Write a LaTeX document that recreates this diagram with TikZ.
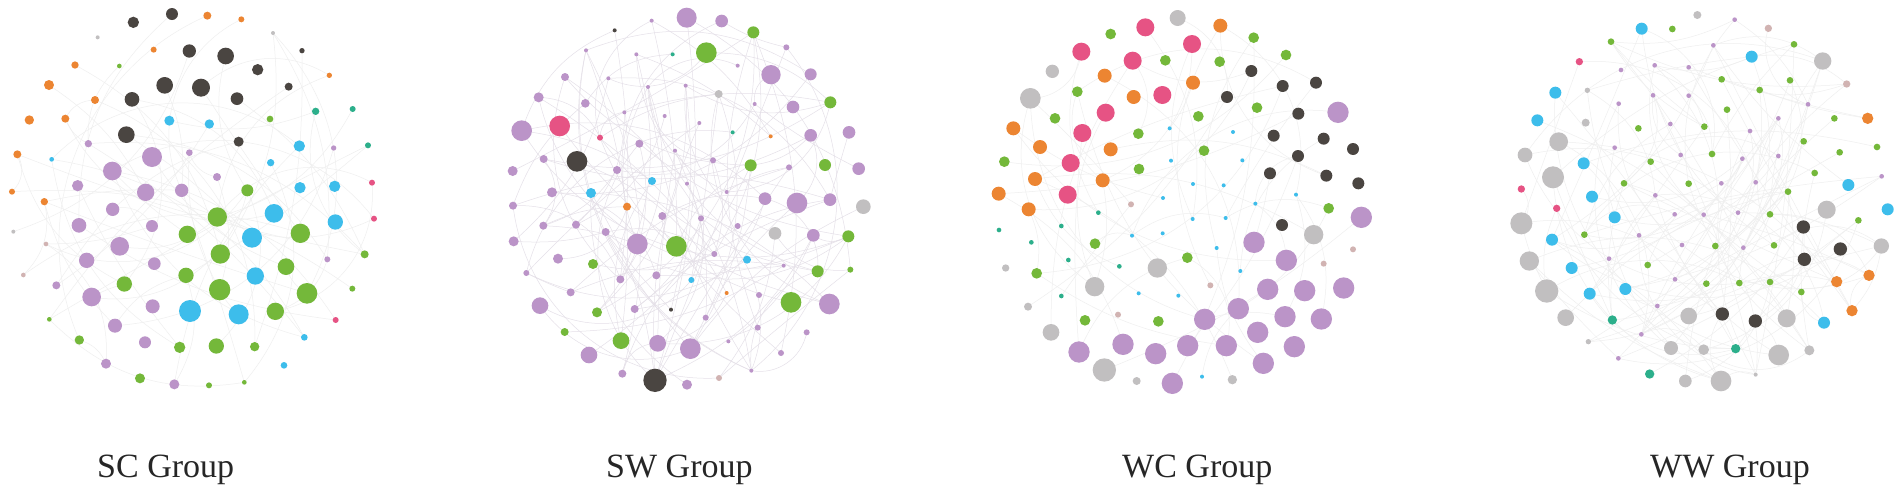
\documentclass[tikz,border=0pt]{standalone}
\usepackage{fontspec}
\setmainfont{Liberation Serif}
\pgfdeclarelayer{bg}
\pgfsetlayers{bg,main}
\definecolor{cpu}{HTML}{BB94C8}
\definecolor{cgr}{HTML}{74B83A}
\definecolor{cbl}{HTML}{3DBDEB}
\definecolor{cdk}{HTML}{4A4541}
\definecolor{cor}{HTML}{EC8532}
\definecolor{cpk}{HTML}{E65384}
\definecolor{ctl}{HTML}{2CAF8B}
\definecolor{cgy}{HTML}{C1BFC0}
\definecolor{cbe}{HTML}{D1B3B2}
\definecolor{cedge}{HTML}{EFEFEF}
\definecolor{cedgesw}{HTML}{E5E0E8}
\newcounter{dotc}
\newcommand\dt[4]{\stepcounter{dotc}\fill[#1] (#2,#3) circle (#4);\coordinate (n\arabic{dotc}) at (#2,#3);}
\newcommand\edges[4]{% lo, hi, count, style
  \foreach \k in {1,...,#3}{%
    \pgfmathrandominteger{\ea}{#1}{#2}%
    \pgfmathrandominteger{\ec}{#1}{#2}%
    \pgfmathrandominteger{\eb}{-45}{45}%
    \ifnum\ea=\ec\else\draw[#4] (n\ea) to[bend left=\eb] (n\ec);\fi}}
\tikzset{
  pu/.style={fill=cpu}, gr/.style={fill=cgr}, bl/.style={fill=cbl},
  dk/.style={fill=cdk}, or/.style={fill=cor}, pk/.style={fill=cpk},
  tl/.style={fill=ctl}, gy/.style={fill=cgy}, be/.style={fill=cbe},
  edge/.style={draw=cedge, line width=0.5pt},
  edgesw/.style={draw=cedgesw, line width=0.5pt},
  lab/.style={font=\fontsize{34}{40}\selectfont, text=black!85, inner sep=0pt, anchor=base west}
}
\begin{document}
\begin{tikzpicture}[x=1pt,y=-1pt]
\useasboundingbox (0,0) rectangle (1902,496);
% ---------------- SC group
\begin{scope}[scale=1/3]
\foreach \x/\y/\r in {400/67/17,516/42/18,568/153/20,677/168/25,773/209/17,866/260/12,711/296/19,603/263/27,494/256/25,396/298/22,379/404/25,716/425/15,906/152/8}{\dt{dk}{\x}{\y}{\r}}
\foreach \x/\y/\r in {622/47/12,724/58/9,461/149/9,225/195/11,147/255/15,285/300/12,88/360/14,196/356/12,52/463/12,36/575/9,133/605/11,988/226/8}{\dt{or}{\x}{\y}{\r}}
\foreach \x/\y/\r in {293/112/6,819/99/6,40/695/6}{\dt{gy}{\x}{\y}{\r}}
\foreach \x/\y/\r in {138/732/7,70/825/7}{\dt{be}{\x}{\y}{\r}}
\foreach \x/\y/\r in {947/334/11,1058/327/9,1104/436/9}{\dt{tl}{\x}{\y}{\r}}
\foreach \x/\y/\r in {508/362/15,628/372/14,155/478/7,898/438/17,812/488/11,900/563/17,1004/559/17,822/640/28,1006/666/23,756/713/30,766/828/26,570/933/33,716/943/30,913/1012/10,852/1096/10}{\dt{bl}{\x}{\y}{\r}}
\foreach \x/\y/\r in {265/431/11,568/458/10,1001/444/8,456/471/30,337/513/28,233/557/17,437/577/26,545/571/20,651/531/12,338/628/20,237/676/22,456/678/18,359/739/28,260/781/23,463/791/19,982/778/9,169/856/12,275/891/28,458/919/21,345/977/21,435/1027/18,318/1091/15,523/1153/15}{\dt{pu}{\x}{\y}{\r}}
\foreach \x/\y/\r in {358/198/7,810/357/10,742/571/18,652/651/29,562/703/26,901/700/29,661/762/29,858/800/25,558/826/23,659/869/32,921/880/31,373/852/23,826/934/26,1094/763/12,1057/866/9,148/958/7,238/1020/14,539/1042/17,649/1038/23,764/1040/14,420/1135/15,627/1156/9,733/1147/7}{\dt{gr}{\x}{\y}{\r}}
\foreach \x/\y/\r in {1116/548/9,1122/656/9,1007/960/9}{\dt{pk}{\x}{\y}{\r}}
\end{scope}
\edef\nA{\arabic{dotc}}
% ---------------- SW group
\begin{scope}[xshift=500pt,scale=1/3]
\foreach \x/\y/\r in {560/53/30,665/63/19,455/62/6,258/151/6,409/163/6,859/142/9,713/197/6,813/224/29,932/223/18,195/231/12,325/235/6,444/261/6,557/257/6,116/292/15,256/310/13,373/337/6,494/348/6,598/369/6,764/312/6,879/321/19,65/392/31,418/431/12,525/452/6,932/406/19,1047/397/19,131/477/12,351/510/12,639/481/9,867/502/9,1076/506/19,38/513/15,561/551/6,156/577/15,680/576/6,795/596/19,891/609/31,990/599/19,39/617/12,487/648/12,603/655/9,130/677/12,228/674/12,317/696/12,713/678/9,41/724/15,412/732/31,940/706/19,174/776/15,643/762/9,79/819/9,851/797/6,361/838/12,469/826/12,212/877/12,777/885/9,120/917/25,404/927/12,988/912/31,617/953/9,773/983/9,920/997/9,473/1030/25,571/1046/31,685/1024/6,267/1065/25,843/1059/9,367/1121/12,754/1112/6,561/1154/15}{\dt{pu}{\x}{\y}{\r}}
\foreach \x/\y/\r in {760/97/18,619/158/31,991/307/18,752/496/18,975/495/18,529/739/31,1045/709/18,279/792/15,953/814/18,1051/809/9,873/907/31,291/937/15,194/996/12,363/1022/25}{\dt{gr}{\x}{\y}{\r}}
\foreach \x/\y/\r in {518/163/6,698/397/6}{\dt{tl}{\x}{\y}{\r}}
\foreach \x/\y/\r in {656/282/12,1090/620/22,825/700/19}{\dt{gy}{\x}{\y}{\r}}
\foreach \x/\y/\r in {344/91/6,231/484/31,513/929/6,465/1141/35}{\dt{dk}{\x}{\y}{\r}}
\foreach \x/\y/\r in {179/378/31,300/413/9}{\dt{pk}{\x}{\y}{\r}}
\foreach \x/\y/\r in {456/543/12,273/579/15,741/779/12,574/840/9}{\dt{bl}{\x}{\y}{\r}}
\foreach \x/\y/\r in {381/620/12,812/409/6,680/879/6}{\dt{or}{\x}{\y}{\r}}
\dt{be}{657}{1134}{9}
\end{scope}
\edef\nB{\arabic{dotc}}
% ---------------- WC group
\begin{scope}[xshift=985pt,scale=1/3]
\foreach \x/\y/\r in {578/54/24,202/214/20,136/295/31,986/704/29,517/804/29,329/860/29,62/804/11,129/920/12,198/997/25,358/1110/35,455/1143/12,742/1139/14}{\dt{gy}{\x}{\y}{\r}}
\foreach \x/\y in {481/82,289/155,621/132,443/182,532/285,362/338,292/399,257/489,248/584}{\dt{pk}{\x}{\y}{27}}
\foreach \x/\y in {706/77,359/227,624/248,446/291,85/385,165/441,377/448,150/537,353/541,41/581,131/628}{\dt{or}{\x}{\y}{21}}
\foreach \x/\y in {377/102,806/113,903/165,541/181,704/185,277/275,816/323,640/349,210/355,460/401,657/452,58/485,462/507,1031/625,330/731,607/773,155/820,300/961,520/964}{\dt{gr}{\x}{\y}{16}}
\foreach \x/\y in {799/213,893/258,993/248,726/291,940/341,866/407,1016/416,1104/447,939/468,855/520,1024/527,1120/550,891/675}{\dt{dk}{\x}{\y}{18}}
\foreach \x/\y in {1059/337,1129/652,807/727,904/781,848/868,959/872,1076/864,760/926,900/950,1009/957,659/958,818/997,414/1033,282/1056,512/1061,608/1037,724/1037,928/1040,835/1090,562/1150}{\dt{pu}{\x}{\y}{32}}
\foreach \x/\y in {438/613,1104/748,1016/791,676/856,399/944}{\dt{be}{\x}{\y}{9}}
\foreach \x/\y in {554/385,744/396,558/482,772/481,624/552,716/556,534/594,811/611,933/584,623/657,722/654,441/707,533/700,695/744,766/813,461/880,580/887,651/1130}{\dt{bl}{\x}{\y}{6}}
\foreach \x/\y in {340/638,42/690,229/678,139/727,250/780,403/799,229/888}{\dt{tl}{\x}{\y}{7}}
\end{scope}
\edef\nC{\arabic{dotc}}
% ---------------- WW group
\begin{scope}[xshift=1500pt,scale=1/3]
\foreach \x/\y/\r in {592/45/12,968/183/26,262/271/8,257/368/12,176/425/28,75/465/22,159/532/33,980/629/27,64/670/33,1144/738/23,88/783/29,140/873/35,197/953/25,566/948/25,860/955/27,265/1025/8,513/1044/21,611/1049/16,836/1065/31,928/1051/15,556/1143/19,663/1143/31,767/1124/6}{\dt{gy}{\x}{\y}{\r}}
\foreach \x/\y in {425/86,755/170,166/278,112/361,251/490,276/590,1045/555,1163/628,344/652,156/719,215/804,376/867,269/881,972/968}{\dt{bl}{\x}{\y}{18}}
\foreach \x/\y in {238/185,64/567,170/625}{\dt{pk}{\x}{\y}{11}}
\foreach \x/\y in {805/85,1040/252}{\dt{be}{\x}{\y}{11}}
\foreach \x/\y in {1103/355,1010/845,1107/826,1056/932}{\dt{or}{\x}{\y}{17}}
\foreach \x/\y in {910/681,1021/747,913/778,667/942,766/963}{\dt{dk}{\x}{\y}{20}}
\foreach \x/\y in {337/960,707/1046,449/1122}{\dt{tl}{\x}{\y}{14}}
\foreach \x/\y in {517/87,333/125,882/133,665/238,870/241,779/270,681/329,1003/355,415/385,613/380,911/424,1131/441,1019/457,452/485,636/462,944/519,372/550,566/551,864/575,810/643,1075/661,253/704,646/738,822/736,443/795,619/851,718/849,810/846,904/876}{\dt{gr}{\x}{\y}{10}}
\foreach \x/\y in {704/59,640/136,363/210,464/196,566/202,459/286,566/287,356/311,924/313,835/355,511/372,750/393,344/443,542/465,727/476,835/468,1145/529,664/550,767/547,466/586,524/643,611/644,714/638,417/706,546/735,730/743,327/776,525/838,472/918,424/1003,355/1075}{\dt{pu}{\x}{\y}{7}}
\end{scope}
\edef\nD{\arabic{dotc}}
% ---------------- faint edges
\begin{pgfonlayer}{bg}
\fill[white] (0,0) rectangle (1902,496);
\pgfmathsetseed{11}
\pgfmathtruncatemacro\sB{\nA+1}
\pgfmathtruncatemacro\sC{\nB+1}
\pgfmathtruncatemacro\sD{\nC+1}
\edges{1}{\nA}{80}{edge}
\edges{\sB}{\nB}{140}{edgesw}
\edges{\sC}{\nC}{60}{edge}
\edges{\sD}{\nD}{150}{edge}
\end{pgfonlayer}
% ---------------- labels
\node[lab] (l1) at (97,477) {SC Group};
\node[lab] (l2) at (606,477) {SW Group};
\node[lab] (l3) at (1122,477) {WC Group};
\node[lab] (l4) at (1650,477) {WW Group};
\end{tikzpicture}
\end{document}
